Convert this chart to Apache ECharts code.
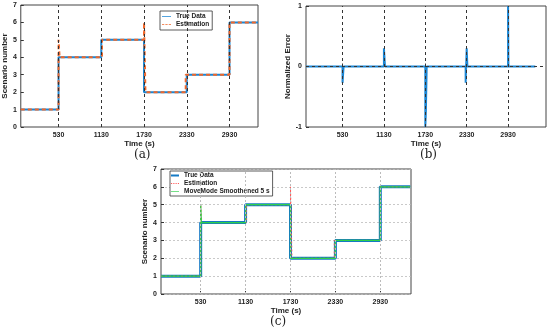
<!DOCTYPE html>
<html>
<head>
<meta charset="utf-8">
<script src="https://cdn.jsdelivr.net/npm/echarts@6/dist/echarts.min.js"></script>
<style>html,body{margin:0;padding:0;background:#fff}#c{width:550px;height:334px}</style>
</head>
<body>
<div id="c"></div>
<script>
// ---- data ----
const timeTicks = [530, 1130, 1730, 2330, 2930];
const trueT = [0, 530, 530, 1130, 1130, 1730, 1730, 2330, 2330, 2930, 2930, 3330];
const trueV = [1, 1, 4, 4, 5, 5, 2, 2, 3, 3, 6, 6];
const estT = [0, 530, 530, 545, 545, 1140, 1140, 1730, 1730, 1750, 1750, 2315, 2315, 2930, 2930, 3330];
const estV = [1, 1, 5, 5, 4, 4, 5, 5, 6, 6, 2, 2, 3, 3, 6, 6];
const smoothT = [0, 530, 530, 540, 540, 1130, 1130, 1730, 1730, 2330, 2330, 2930, 2930, 3330];
const smoothV = [1, 1, 5, 5, 4, 4, 5, 5, 2, 2, 3, 3, 6, 6];
const errT = [0, 530, 530, 545, 545, 1130, 1130, 1145, 1145, 1730, 1730, 1738, 1738, 1750, 1750, 2315, 2315, 2330, 2330, 2340, 2340, 2930, 2930, 2935, 2935, 3325];
const errV = [0, 0, -0.27, -0.27, 0, 0, 0.3, 0.3, 0, 0, -1, -1, -0.75, -0.75, 0, 0, -0.27, -0.27, 0.3, 0.3, 0, 0, 1, 1, 0, 0];
const scenarioTicks = [0, 1, 2, 3, 4, 5, 6, 7];
const errTicks = [-1, 0, 1];

const pairs = (t, v) => t.map((x, i) => [x, v[i]]);

const BLUE = '#1b86d4', ORANGE = '#f0672a';
const BLUE_C = '#1479c4', RED_C = '#ff5a5a', GREEN_C = '#2fd04a';
const FONT = 'Liberation Sans';
const tickLbl = {fontSize: 7, fontWeight: 'bold', color: '#222', fontFamily: FONT, formatter: v => String(v)};
const SOLID = 'path://M0,0H12V1H0Z';
const DASHED = 'path://M0,0H3V1H0Z M4.5,0H7.5V1H4.5Z M9,0H12V1H9Z';
const DOTTED = 'path://M0,0H1.5V1H0Z M3,0H4.5V1H3Z M6,0H7.5V1H6Z M9,0H10.5V1H9Z';

function xAx(gi, max) {
  return {
    type: 'value', gridIndex: gi, min: 0, max: max,
    name: 'Time (s)', nameLocation: 'middle', nameGap: 11,
    nameTextStyle: {fontSize: 8, fontWeight: 'bold', color: '#222', fontFamily: FONT},
    axisLine: {show: false},
    axisTick: {show: true, inside: true, length: 3, customValues: timeTicks, lineStyle: {color: '#333'}},
    axisLabel: Object.assign({customValues: timeTicks, margin: 5}, tickLbl),
    splitLine: {show: false}
  };
}
function yAx(gi, min, max, name, ticks, grid) {
  return {
    type: 'value', gridIndex: gi, min: min, max: max, interval: 1,
    name: name, nameLocation: 'middle', nameGap: 11,
    nameTextStyle: {fontSize: 8, fontWeight: 'bold', color: '#222', fontFamily: FONT},
    axisLine: {show: false},
    axisTick: {show: true, inside: true, length: 3, lineStyle: {color: '#333'}},
    axisLabel: Object.assign({margin: 4, showMinLabel: true, showMaxLabel: true}, tickLbl),
    splitLine: grid ? {show: true, lineStyle: {color: '#bbb', type: [2, 2], width: 0.8}} : {show: false}
  };
}
function vLines(xi, yi, color, dash, z, extra) {
  const d = timeTicks.map(t => ({xAxis: t}));
  if (extra) d.push(...extra);
  return {
    type: 'line', xAxisIndex: xi, yAxisIndex: yi, data: [], z: z, silent: true,
    markLine: {symbol: 'none', silent: true, animation: false, label: {show: false},
      lineStyle: {color: color, type: dash, width: 1}, data: d}
  };
}
const legText = {fontSize: 6.5, fontWeight: 'bold', color: '#222', fontFamily: FONT, padding: [0, 0, 0, 0]};

const option = {
  animation: false,
  grid: [
    {left: 17, top: 5, width: 241, height: 122, show: true, borderColor: '#444', borderWidth: 1},
    {left: 306, top: 6, width: 240, height: 121, show: true, borderColor: '#444', borderWidth: 1},
    {left: 161, top: 169, width: 250, height: 125, show: true, borderColor: '#444', borderWidth: 1}
  ],
  xAxis: [xAx(0, 3330), xAx(1, 3480), xAx(2, 3340)],
  yAxis: [
    yAx(0, 0, 7, 'Scenario number', scenarioTicks, false),
    yAx(1, -1, 1, 'Normalized Error', errTicks, false),
    yAx(2, 0, 7, 'Scenario number', scenarioTicks, true)
  ],
  legend: [
    {left: 160, top: 11, orient: 'vertical', itemGap: 1, itemWidth: 9, itemHeight: 2,
      padding: [2, 3, 2, 2], borderColor: '#333', borderWidth: 0.8, backgroundColor: '#fff',
      textStyle: legText,
      data: [{name: 'True Data', icon: SOLID, itemStyle: {color: BLUE}},
             {name: 'Estimation', icon: DASHED, itemStyle: {color: ORANGE}}]},
    {left: 170, top: 171, orient: 'vertical', itemGap: 1, itemWidth: 8, itemHeight: 2,
      padding: [1, 3, 1, 1], borderColor: '#333', borderWidth: 0.8, backgroundColor: '#fff',
      textStyle: legText,
      data: [{name: 'True Data ', icon: 'rect', itemStyle: {color: BLUE_C}},
             {name: 'Estimation ', icon: DOTTED, itemStyle: {color: RED_C}},
             {name: 'MoveMode Smoothened 5 s', icon: SOLID, itemStyle: {color: GREEN_C}}]}
  ],
  graphic: [
    {type: 'text', left: 134, top: 149, style: {text: '(a)', font: '12px "DejaVu Serif"', fill: '#222'}},
    {type: 'text', left: 420, top: 149, style: {text: '(b)', font: '12px "DejaVu Serif"', fill: '#222'}},
    {type: 'text', left: 270, top: 316, style: {text: '(c)', font: '12px "DejaVu Serif"', fill: '#222'}}
  ],
  series: [
    vLines(0, 0, '#333', [3, 3], 1),
    {name: 'True Data', type: 'line', xAxisIndex: 0, yAxisIndex: 0, data: pairs(trueT, trueV),
      symbol: 'none', z: 2, lineStyle: {color: BLUE, width: 2}, itemStyle: {color: BLUE}},
    {name: 'Estimation', type: 'line', xAxisIndex: 0, yAxisIndex: 0, data: pairs(estT, estV),
      symbol: 'none', z: 3, lineStyle: {color: ORANGE, width: 2, type: [4, 3]}, itemStyle: {color: ORANGE}},
    vLines(1, 1, '#333', [3, 3], 1, [{yAxis: 0}]),
    {name: 'Normalized Error', type: 'line', xAxisIndex: 1, yAxisIndex: 1, data: pairs(errT, errV),
      symbol: 'none', z: 2, lineStyle: {color: BLUE, width: 2}, itemStyle: {color: BLUE}},
    vLines(2, 2, '#bbb', [2, 2], 1),
    {name: 'True Data ', type: 'line', xAxisIndex: 2, yAxisIndex: 2, data: pairs(trueT, trueV),
      symbol: 'none', z: 2, lineStyle: {color: BLUE_C, width: 3}, itemStyle: {color: BLUE_C}},
    {name: 'Estimation ', type: 'line', xAxisIndex: 2, yAxisIndex: 2, data: pairs(estT, estV),
      symbol: 'none', z: 3, lineStyle: {color: RED_C, width: 1, type: [2, 2]}, itemStyle: {color: RED_C}},
    {name: 'MoveMode Smoothened 5 s', type: 'line', xAxisIndex: 2, yAxisIndex: 2, data: pairs(smoothT, smoothV),
      symbol: 'none', z: 4, lineStyle: {color: GREEN_C, width: 1.2}, itemStyle: {color: GREEN_C}}
  ]
};
const chart = echarts.init(document.getElementById('c'), null, {renderer: 'canvas'});
chart.setOption(option);
</script>
</body>
</html>
